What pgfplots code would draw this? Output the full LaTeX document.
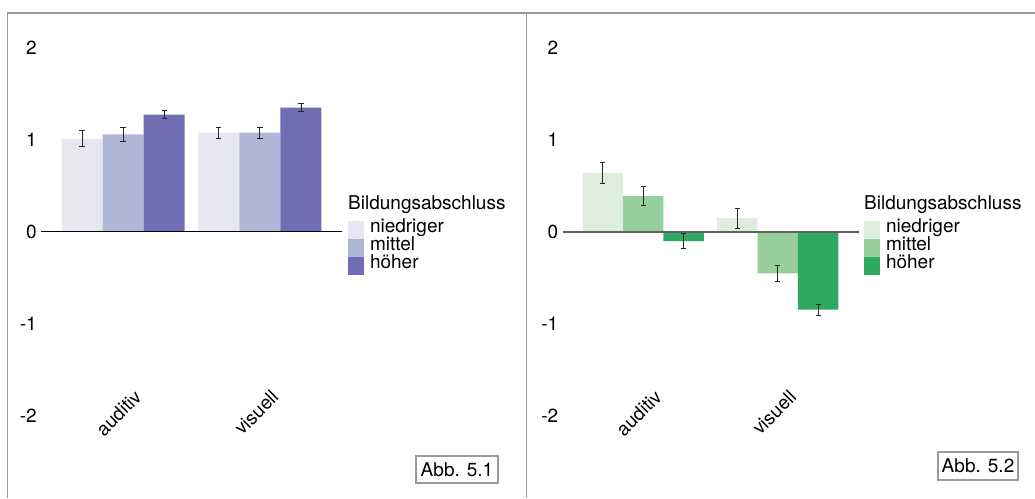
\documentclass[border=0pt]{standalone}
\usepackage{fontspec}
\setmainfont{TeX Gyre Heros}
\usepackage{pgfplots}
\pgfplotsset{compat=1.18}
\definecolor{pA}{HTML}{E7E7F1}
\definecolor{pB}{HTML}{B1B5D6}
\definecolor{pC}{HTML}{706DB2}
\definecolor{gA}{HTML}{DEEEDC}
\definecolor{gB}{HTML}{96CF9B}
\definecolor{gC}{HTML}{2FA960}
\definecolor{frame}{HTML}{9A9A9A}
\pgfplotsset{
  panel/.style={
    scale only axis, width=301pt, height=404.8pt,
    xmin=-0.6, xmax=1.6, ymin=-2.2, ymax=2.2,
    ybar=0pt, bar width=0.3,
    axis lines=left, axis line style={draw=none},
    major tick length=0pt, clip=false,
    ytick={-2,-1,0,1,2},
    yticklabels={-2,-1,0,1,2},
    /pgf/number format/assume math mode=true,
    yticklabel style={anchor=east, inner sep=0pt, xshift=-4pt},
    xtick={0,1}, xticklabels={auditiv,visuell},
    xticklabel style={inner sep=0pt, xshift=10pt, yshift=46pt, rotate=45, anchor=north east},
    tick label style={font=\fontsize{19}{22}\selectfont},
    legend style={draw=none, fill=none, inner sep=0pt, outer sep=0pt,
      column sep=6pt, row sep=0pt,
      nodes={inner sep=0pt, text height=12pt, text depth=6pt, font=\fontsize{19}{22}\selectfont}},
    legend cell align=left,
    legend image code/.code={\fill[##1] (0pt,-9pt) rectangle (16pt,9pt);},
    every axis plot/.append style={draw=none,
      error bars/y dir=both, error bars/y explicit,
      error bars/error bar style={line width=0.9pt, black!85},
      error bars/error mark options={rotate=90, mark size=2.6pt, line width=0.9pt, black!85}},
  }
}
\begin{document}
\begin{tikzpicture}[x=1pt,y=1pt]
\path[use as bounding box] (0,0) rectangle (1035,498);
% panel frames
\draw[frame, line width=1.5pt] (7.5,0) -- (7.5,485) -- (1035,485);
\draw[frame, line width=1.5pt] (526.5,0) -- (526.5,485);

% ---------------- left panel
\begin{axis}[panel, at={(41pt,63.6pt)}, anchor=south west, width=301pt,
  legend style={at={(axis cs:-0.6,0)}, anchor=north west, xshift=307pt, yshift=11pt}]
\addplot[fill=pA] coordinates {(0,1.016) +- (0,0.087) (1,1.08) +- (0,0.06)};
\addplot[fill=pB] coordinates {(0,1.06) +- (0,0.08) (1,1.08) +- (0,0.058)};
\addplot[fill=pC] coordinates {(0,1.277) +- (0,0.047) (1,1.353) +- (0,0.04)};
\legend{niedriger,mittel,höher}
\draw[black, line width=1pt] (axis cs:-0.6,0) -- (axis cs:1.6,0);
\end{axis}
\node[anchor=base west, inner sep=0pt, font=\fontsize{19}{22}\selectfont] at (348,288.5) {Bildungsabschluss};
\node[draw=frame, line width=1.5pt, minimum width=82pt, minimum height=27pt, inner sep=0pt,
  font=\fontsize{19}{22}\selectfont] at (457,28.5) {Abb. 5.1};

% ---------------- right panel
\begin{axis}[panel, at={(562.5pt,63.6pt)}, anchor=south west, width=296pt,
  legend style={at={(axis cs:-0.6,0)}, anchor=north west, xshift=301.5pt, yshift=11pt}]
\addplot[fill=gA] coordinates {(0,0.64) +- (0,0.115) (1,0.15) +- (0,0.11)};
\addplot[fill=gB] coordinates {(0,0.39) +- (0,0.10) (1,-0.45) +- (0,0.086)};
\addplot[fill=gC] coordinates {(0,-0.098) +- (0,0.077) (1,-0.845) +- (0,0.06)};
\legend{niedriger,mittel,höher}
\draw[black!62, line width=1.3pt] (axis cs:-0.6,0) -- (axis cs:1.6,0);
\end{axis}
\node[anchor=base west, inner sep=0pt, font=\fontsize{19}{22}\selectfont] at (864,288.5) {Bildungsabschluss};
\node[draw=frame, line width=1.5pt, minimum width=80pt, minimum height=28pt, inner sep=0pt,
  font=\fontsize{19}{22}\selectfont] at (978,32) {Abb. 5.2};
\end{tikzpicture}
\end{document}
